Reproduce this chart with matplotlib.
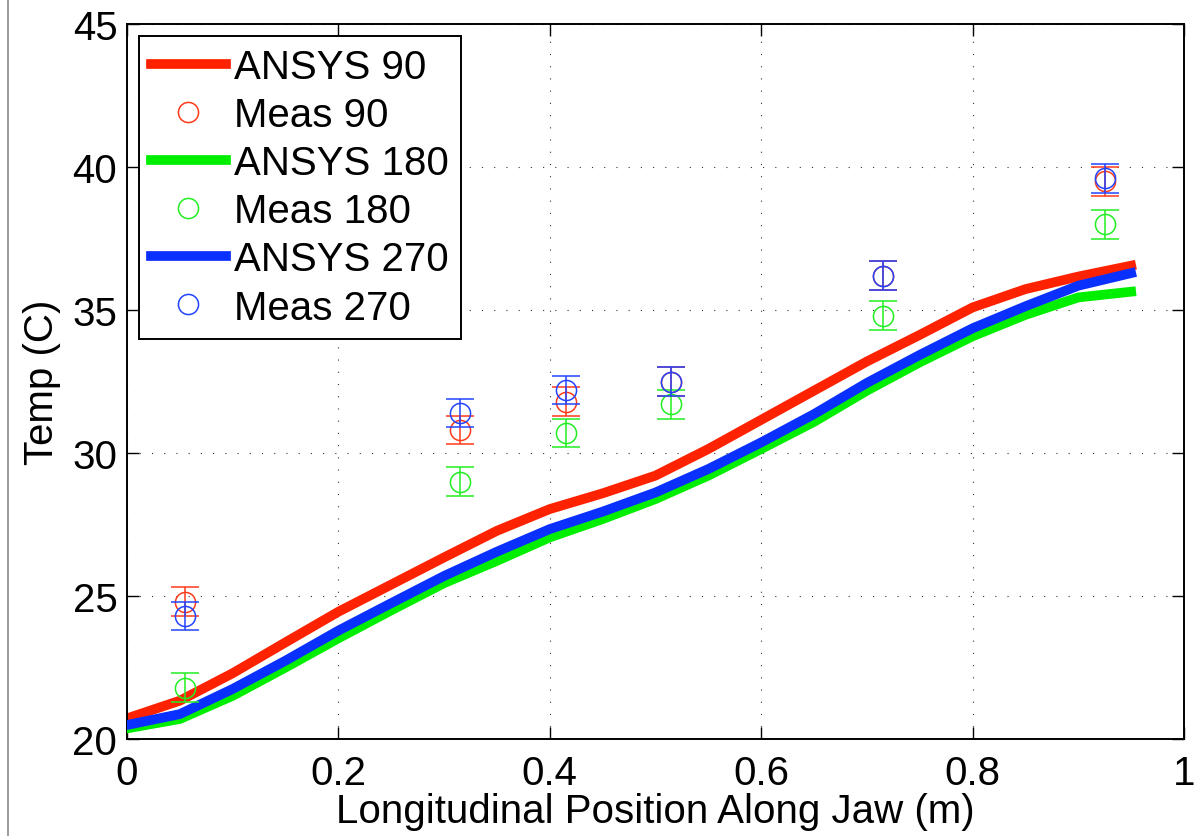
import matplotlib
matplotlib.use("Agg")
import matplotlib.pyplot as plt
from matplotlib.lines import Line2D

plt.rcParams['font.family'] = ['Liberation Sans', 'DejaVu Sans']

# ANSYS simulation profiles along the jaw
x_sim = [0.00, 0.05, 0.10, 0.15, 0.20, 0.25, 0.30, 0.35, 0.40, 0.45,
         0.50, 0.55, 0.60, 0.65, 0.70, 0.75, 0.80, 0.85, 0.90, 0.95]
ansys_90 = [20.72, 21.34, 22.30, 23.38, 24.45, 25.40, 26.35, 27.28, 28.04, 28.59,
            29.21, 30.14, 31.16, 32.18, 33.20, 34.13, 35.09, 35.73, 36.17, 36.55]
ansys_180 = [20.37, 20.70, 21.51, 22.50, 23.52, 24.50, 25.45, 26.23, 27.05, 27.69,
             28.39, 29.21, 30.14, 31.09, 32.18, 33.17, 34.08, 34.83, 35.44, 35.64]
ansys_270 = [20.49, 20.87, 21.75, 22.74, 23.79, 24.75, 25.70, 26.55, 27.34, 27.95,
             28.62, 29.44, 30.37, 31.36, 32.45, 33.43, 34.36, 35.13, 35.85, 36.29]

# Thermocouple measurements
x_meas = [0.055, 0.315, 0.415, 0.515, 0.715, 0.925]
meas_90 = [24.8, 30.8, 31.8, 32.5, 36.2, 39.5]
meas_180 = [21.8, 29.0, 30.7, 31.7, 34.8, 38.0]
meas_270 = [24.3, 31.4, 32.2, 32.5, 36.2, 39.6]
meas_err = [0.5, 0.5, 0.5, 0.5, 0.5, 0.5]

x_ticks = [0, 0.2, 0.4, 0.6, 0.8, 1]
x_tick_labels = ['0', '0.2', '0.4', '0.6', '0.8', '1']
y_ticks = [20, 25, 30, 35, 40, 45]

line_colors = ['#ff2200', '#00ee00', '#0a30ff']
marker_colors = ['#ff3a1a', '#22ee22', '#2244ff']

FS = 29

fig = plt.figure(figsize=(11.95, 8.37), dpi=100)
ax = fig.add_axes([127 / 1195, 1 - 740 / 837, (1184 - 127) / 1195, (740 - 25) / 837])

series = [
    ('ANSYS 90', ansys_90, 'Meas 90', meas_90),
    ('ANSYS 180', ansys_180, 'Meas 180', meas_180),
    ('ANSYS 270', ansys_270, 'Meas 270', meas_270),
]

for i, (sim_label, sim, meas_label, meas) in enumerate(series):
    ax.plot(x_sim, sim, color=line_colors[i], lw=7, solid_joinstyle='miter',
            label=sim_label, zorder=2 + i)
    ax.errorbar(x_meas, meas, yerr=meas_err, fmt='none', ecolor=marker_colors[i],
                elinewidth=1.1, capsize=10, capthick=1.1, zorder=6 + i)
    ax.plot(x_meas, meas, 'o', ms=14.5, mfc='none', mec=marker_colors[i], mew=1.1,
            linestyle='none', label=meas_label, zorder=6 + i)

ax.set_xlim(0, 1)
ax.set_ylim(20, 45)
ax.set_xticks(x_ticks)
ax.set_xticklabels(x_tick_labels)
ax.set_yticks(y_ticks)

ax.grid(True, color='#333333', linestyle=(0, (1, 10)), linewidth=0.8)
ax.set_axisbelow(True)

ax.tick_params(axis='both', which='both', direction='in', length=8.5, width=1.0,
               top=True, right=True, labelsize=FS, colors='black')
ax.tick_params(axis='x', pad=11)
ax.tick_params(axis='y', pad=7)
for sp in ax.spines.values():
    sp.set_linewidth(1.4)
    sp.set_color('black')

ax.set_xlabel('Longitudinal Position Along Jaw (m)', fontsize=FS, labelpad=0)
ax.set_ylabel('Temp (C)', fontsize=FS, labelpad=8)

leg = ax.legend(loc='upper left', fontsize=FS, frameon=True, fancybox=False,
                edgecolor='black', framealpha=1, handlelength=1.85,
                handletextpad=0.2, labelspacing=0.25, borderaxespad=0.3,
                borderpad=0.3)
leg.get_frame().set_linewidth(1.4)

# thin border line on the left edge of the figure
fig.add_artist(Line2D([7.5 / 1195, 7.5 / 1195], [0, 1], transform=fig.transFigure,
                      color='#888888', lw=1.2))

fig.savefig('out.png', dpi=100)
